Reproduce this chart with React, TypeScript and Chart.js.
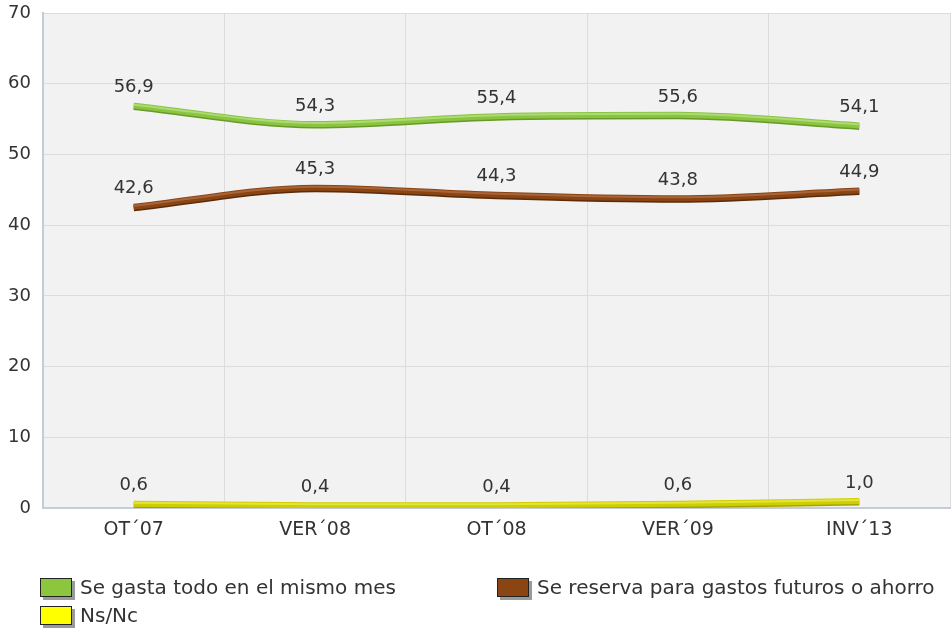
import React, { useEffect, useRef } from 'react';
import { Chart, registerables } from 'chart.js';

Chart.register(...registerables);

const FONT = '"DejaVu Sans", Verdana, sans-serif';

const categories = ['OT´07', 'VER´08', 'OT´08', 'VER´09', 'INV´13'];
const gastaTodo = [56.9, 54.3, 55.4, 55.6, 54.1];
const reserva = [42.6, 45.3, 44.3, 43.8, 44.9];
const nsnc = [0.6, 0.4, 0.4, 0.6, 1.0];
const yTicks = [0, 10, 20, 30, 40, 50, 60, 70];

const seriesNames = ['Se gasta todo en el mismo mes', 'Se reserva para gastos futuros o ahorro', 'Ns/Nc'];

const fmt = (v: number) => v.toFixed(1).replace('.', ',');

const plotBg = {
  id: 'plotBg',
  beforeDraw(chart: any) {
    const { ctx, chartArea: a } = chart;
    ctx.save();
    ctx.fillStyle = '#f2f2f2';
    ctx.fillRect(a.left, a.top, a.right - a.left, a.bottom - a.top);
    ctx.restore();
  },
};

const lineStyle = {
  id: 'lineStyle',
  beforeDatasetDraw(chart: any, args: any) {
    const ds = chart.data.datasets[args.index];
    const ctx = chart.ctx;
    ctx.save();
    if (ds.isMain) {
      ctx.shadowColor = ds.edgeColor;
      ctx.shadowOffsetX = 0;
      ctx.shadowOffsetY = 1.5;
      ctx.shadowBlur = 0.5;
    } else {
      ctx.translate(0, -1);
    }
  },
  afterDatasetDraw(chart: any) {
    chart.ctx.restore();
  },
};

const dataLabels = {
  id: 'dataLabels',
  afterDatasetsDraw(chart: any) {
    const { ctx } = chart;
    ctx.save();
    ctx.font = `18px ${FONT}`;
    ctx.fillStyle = '#333333';
    ctx.textAlign = 'center';
    ctx.textBaseline = 'middle';
    chart.data.datasets.forEach((ds: any, di: number) => {
      if (!ds.isMain) return;
      const meta = chart.getDatasetMeta(di);
      meta.data.forEach((pt: any, i: number) => {
        ctx.fillText(fmt(ds.data[i]), pt.x, pt.y - 18);
      });
    });
    ctx.restore();
  },
};

const mainLine = (label: string, data: number[], color: string, edge: string) => ({
  label,
  data,
  isMain: true,
  edgeColor: edge,
  borderColor: color,
  backgroundColor: color,
  borderWidth: 6,
  pointRadius: 0,
  fill: false,
  cubicInterpolationMode: 'monotone' as const,
  order: 2,
});

const highlight = (data: number[], color: string) => ({
  label: '',
  data,
  isMain: false,
  borderColor: color,
  borderWidth: 2,
  pointRadius: 0,
  fill: false,
  cubicInterpolationMode: 'monotone' as const,
  order: 1,
});

const legendItems = [
  { name: seriesNames[0], color: '#8cc63e', left: 40, top: 577 },
  { name: seriesNames[1], color: '#8b4513', left: 497, top: 577 },
  { name: seriesNames[2], color: '#ffff00', left: 40, top: 605 },
];

export default function App() {
  const ref = useRef<HTMLCanvasElement>(null);

  useEffect(() => {
    if (!ref.current) return;
    const chart = new Chart(ref.current, {
      type: 'line',
      data: {
        labels: categories,
        datasets: [
          mainLine(seriesNames[0], gastaTodo, '#8bc540', '#679a28'),
          mainLine(seriesNames[1], reserva, '#8b4513', '#5a2c0b'),
          mainLine(seriesNames[2], nsnc, '#cece00', '#a4a400'),
          highlight(gastaTodo, '#acda74'),
          highlight(reserva, '#a8653b'),
          highlight(nsnc, '#e4e43a'),
        ] as any,
      },
      options: {
        animation: false,
        responsive: false,
        layout: { padding: { top: 13, right: 2, left: 0, bottom: 0 } },
        plugins: {
          legend: { display: false },
          tooltip: { enabled: false },
        },
        scales: {
          x: {
            offset: true,
            grid: { color: '#dcdcdc', lineWidth: 1, drawTicks: false, offset: true },
            border: { display: true, color: '#c3cdd8', width: 2 },
            ticks: { color: '#333333', font: { family: FONT, size: 19 }, padding: 11, maxRotation: 0 },
            afterFit: (s: any) => { s.height = 123; s.paddingLeft = 0; s.paddingRight = 0; },
          },
          y: {
            min: 0,
            max: 70,
            afterBuildTicks: (s: any) => { s.ticks = yTicks.map((v) => ({ value: v })); },
            grid: { color: '#dcdcdc', lineWidth: 1, drawTicks: false },
            border: { display: true, color: '#c3cdd8', width: 2 },
            ticks: { color: '#333333', font: { family: FONT, size: 18 }, padding: 12 },
            afterFit: (s: any) => { s.width = 43; s.paddingTop = 0; s.paddingBottom = 0; },
          },
        },
      },
      plugins: [plotBg, lineStyle, dataLabels],
    });
    return () => chart.destroy();
  }, []);

  return (
    <div style={{ position: 'fixed', left: 0, top: 0, width: 952, height: 631, background: '#ffffff' }}>
      <canvas ref={ref} width={952} height={631} style={{ position: 'absolute', left: 0, top: 0 }} />
      {legendItems.map((it) => (
        <div
          key={it.name}
          style={{ position: 'absolute', left: it.left, top: it.top - 1, display: 'flex', alignItems: 'center', fontFamily: FONT, fontSize: 20, color: '#333333', lineHeight: '22px' }}
        >
          <div
            style={{ width: 30, height: 17, background: it.color, border: '1px solid #222', boxShadow: '3px 3px 0 #9a9a9a', marginRight: 8 }}
          />
          <span>{it.name}</span>
        </div>
      ))}
    </div>
  );
}
